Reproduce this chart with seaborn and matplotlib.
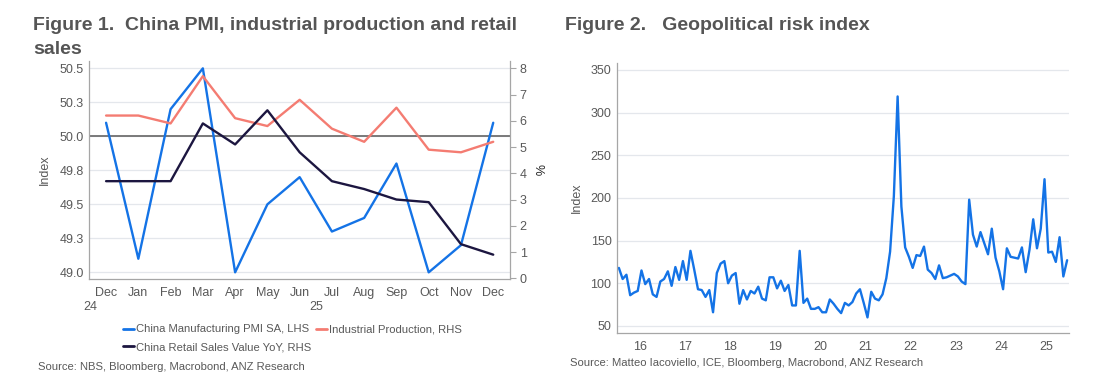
import numpy as np
import pandas as pd
import matplotlib
matplotlib.use("Agg")
import matplotlib.pyplot as plt
import matplotlib.transforms as mtransforms
import seaborn as sns

# ---------------- data ----------------
months = ["Dec", "Jan", "Feb", "Mar", "Apr", "May", "Jun", "Jul", "Aug", "Sep", "Oct", "Nov", "Dec"]
pmi = [50.1, 49.1, 50.2, 50.5, 49.0, 49.5, 49.7, 49.3, 49.4, 49.8, 49.0, 49.2, 50.1]
ip = [6.2, 6.2, 5.9, 7.7, 6.1, 5.8, 6.8, 5.7, 5.2, 6.5, 4.9, 4.8, 5.2]
retail = [3.7, 3.7, 3.7, 5.9, 5.1, 6.4, 4.8, 3.7, 3.4, 3.0, 2.9, 1.3, 0.9]
left_ticks = [49.0, 49.25, 49.5, 49.75, 50.0, 50.25, 50.5]
left_tick_labels = ["49.0", "49.3", "49.5", "49.8", "50.0", "50.3", "50.5"]
right_ticks = [0, 1, 2, 3, 4, 5, 6, 7, 8]
year_labels_1 = ["24", "25"]

gpr_start_year = 2016
gpr = [
    118, 105, 110, 86, 89, 91, 115, 99, 105, 87, 84, 102,      # 2016
    105, 114, 97, 119, 104, 126, 104, 138, 116, 93, 92, 84,    # 2017
    92, 66, 112, 123, 126, 100, 109, 112, 76, 92, 81, 91,      # 2018
    88, 96, 82, 80, 107, 107, 94, 103, 91, 98, 74, 74,         # 2019
    138, 77, 82, 70, 70, 72, 66, 66, 81, 76, 70, 65,           # 2020
    77, 74, 78, 88, 93, 77, 60, 90, 82, 80, 87, 106,           # 2021
    137, 202, 319, 190, 142, 131, 118, 133, 132, 143, 116, 112,  # 2022
    105, 121, 106, 107, 109, 111, 108, 102, 99, 198, 157, 143,   # 2023
    160, 147, 134, 164, 130, 114, 93, 141, 131, 130, 129, 142,   # 2024
    113, 139, 175, 141, 164, 222, 136, 137, 125, 154, 108, 127,  # 2025
]
gpr_ticks = [50, 100, 150, 200, 250, 300, 350]
gpr_year_labels = ["16", "17", "18", "19", "20", "21", "22", "23", "24", "25"]

# ---------------- style ----------------
sns.set_style("white")
plt.rcParams["font.family"] = ["Liberation Sans", "DejaVu Sans"]

TXT = "#595959"
GRID = "#e4e7ec"
SPINE = "#a6a6a6"
BLUE = "#1473e6"
RED = "#f47c72"
NAVY = "#1c1640"

W, H = 1094, 379
fig = plt.figure(figsize=(W / 100, H / 100), dpi=100)
fig.patch.set_facecolor("white")


def box(x0, y0, x1, y1):
    return [x0 / W, 1 - y1 / H, (x1 - x0) / W, (y1 - y0) / H]


# ---------------- Figure 1 ----------------
ax1 = fig.add_axes(box(89.3, 61, 510, 279))
ax1r = ax1.twinx()

df1 = pd.DataFrame({"x": np.arange(len(months)), "pmi": pmi, "ip": ip, "retail": retail})

ax1.axhline(50.0, color="#707070", lw=1.3, zorder=1)
sns.lineplot(data=df1, x="x", y="pmi", ax=ax1, color=BLUE, lw=1.7, zorder=3)
sns.lineplot(data=df1, x="x", y="ip", ax=ax1r, color=RED, lw=1.7, zorder=3)
sns.lineplot(data=df1, x="x", y="retail", ax=ax1r, color=NAVY, lw=1.7, zorder=4)

ax1.set_xlim(-0.52, 12.52)
ax1.set_ylim(48.951, 50.554)
ax1r.set_ylim(-0.027, 8.278)

ax1.set_yticks(left_ticks)
ax1.set_yticklabels(left_tick_labels)
ax1r.set_yticks(right_ticks)
ax1.grid(axis="y", color=GRID, lw=0.9)
ax1.set_axisbelow(True)

ax1.set_xticks(np.arange(len(months)))
ax1.set_xticklabels(months)
ax1.set_xticks(np.arange(-0.5, 12.6, 1.0), minor=True)
ax1.tick_params(axis="x", which="major", length=0, pad=6, labelsize=9, labelcolor=TXT)
ax1.tick_params(axis="x", which="minor", length=3, color="#d0d0d0", width=0.8)
ax1.tick_params(axis="y", length=0, pad=4, labelsize=9, labelcolor=TXT)
ax1r.tick_params(axis="y", length=4, color=SPINE, width=0.8, pad=3, labelsize=9, labelcolor=TXT)

for sp in ["top"]:
    ax1.spines[sp].set_visible(False)
    ax1r.spines[sp].set_visible(False)
ax1.spines["right"].set_visible(False)
ax1r.spines["left"].set_visible(False)
for a, sp in [(ax1, "left"), (ax1, "bottom"), (ax1r, "right")]:
    a.spines[sp].set_color(SPINE)
    a.spines[sp].set_linewidth(0.9)
ax1r.spines["bottom"].set_visible(False)

ax1.set_xlabel("")
ax1.set_ylabel("Index", fontsize=9, color=TXT)
ax1r.set_ylabel("%", fontsize=9, color="#222222", rotation=270, labelpad=12)
ax1.yaxis.set_label_coords(-0.091, 0.5)

trans1 = mtransforms.blended_transform_factory(ax1.transData, fig.transFigure)
ax1.text(-0.5, 1 - 307 / H, year_labels_1[0], transform=trans1, ha="center", va="center", fontsize=9, color=TXT)
ax1.text(6.5, 1 - 307 / H, year_labels_1[1], transform=trans1, ha="center", va="center", fontsize=9, color=TXT)

# legend
h_pmi, = ax1.plot([], [], color=BLUE, lw=2)
h_ip, = ax1.plot([], [], color=RED, lw=2)
h_rs, = ax1.plot([], [], color=NAVY, lw=2)
leg = fig.legend([h_pmi, h_rs, h_ip],
                 ["China Manufacturing PMI SA, LHS", "China Retail Sales Value YoY, RHS", "Industrial Production, RHS"],
                 ncol=2, loc="upper left", bbox_to_anchor=(123 / W, 1 - 324.5 / H), frameon=False,
                 fontsize=8.1, handlelength=1.0, handletextpad=0.2, columnspacing=0.35,
                 labelspacing=0.7, borderaxespad=0, borderpad=0)
for t in leg.get_texts():
    t.set_color(TXT)

fig.text(33 / W, 1 - 30 / H, "Figure 1.  China PMI, industrial production and retail",
         fontsize=14, fontweight="bold", color="#555555", va="baseline", ha="left")
fig.text(33 / W, 1 - 53.5 / H, "sales",
         fontsize=14, fontweight="bold", color="#555555", va="baseline", ha="left")
fig.text(38.5 / W, 1 - 367 / H, "Source: NBS, Bloomberg, Macrobond, ANZ Research",
         fontsize=8.1, color=TXT, va="center", ha="left")

# ---------------- Figure 2 ----------------
ax2 = fig.add_axes(box(617, 63, 1069, 333))
t = gpr_start_year + (np.arange(len(gpr)) + 0.5) / 12.0
df2 = pd.DataFrame({"t": t, "gpr": gpr})
sns.lineplot(data=df2, x="t", y="gpr", ax=ax2, color=BLUE, lw=1.7)

n_years = len(gpr_year_labels)
ax2.set_xlim(gpr_start_year, gpr_start_year + n_years)
ax2.set_ylim(41.7, 358.2)
ax2.set_yticks(gpr_ticks)
ax2.grid(axis="y", color=GRID, lw=0.9)
ax2.set_axisbelow(True)

ax2.set_xticks(np.arange(gpr_start_year, gpr_start_year + n_years + 1))
ax2.set_xticklabels([])
ax2.set_xticks(np.arange(gpr_start_year, gpr_start_year + n_years) + 0.5, minor=True)
ax2.set_xticklabels(gpr_year_labels, minor=True)
ax2.tick_params(axis="x", which="major", length=4, color=SPINE, width=0.8)
ax2.tick_params(axis="x", which="minor", length=0, pad=6, labelsize=9, labelcolor=TXT)
ax2.tick_params(axis="y", length=0, pad=4, labelsize=9, labelcolor=TXT)

for sp in ["top", "right"]:
    ax2.spines[sp].set_visible(False)
for sp in ["left", "bottom"]:
    ax2.spines[sp].set_color(SPINE)
    ax2.spines[sp].set_linewidth(0.9)

ax2.set_xlabel("")
ax2.set_ylabel("Index", fontsize=9, color=TXT)
ax2.yaxis.set_label_coords(-0.075, 0.5)

fig.text(565 / W, 1 - 30 / H, "Figure 2.   Geopolitical risk index",
         fontsize=14, fontweight="bold", color="#555555", va="baseline", ha="left")
fig.text(570 / W, 1 - 363 / H, "Source: Matteo Iacoviello, ICE, Bloomberg, Macrobond, ANZ Research",
         fontsize=8.1, color=TXT, va="center", ha="left")

fig.savefig("out.png", dpi=100, facecolor="white")
